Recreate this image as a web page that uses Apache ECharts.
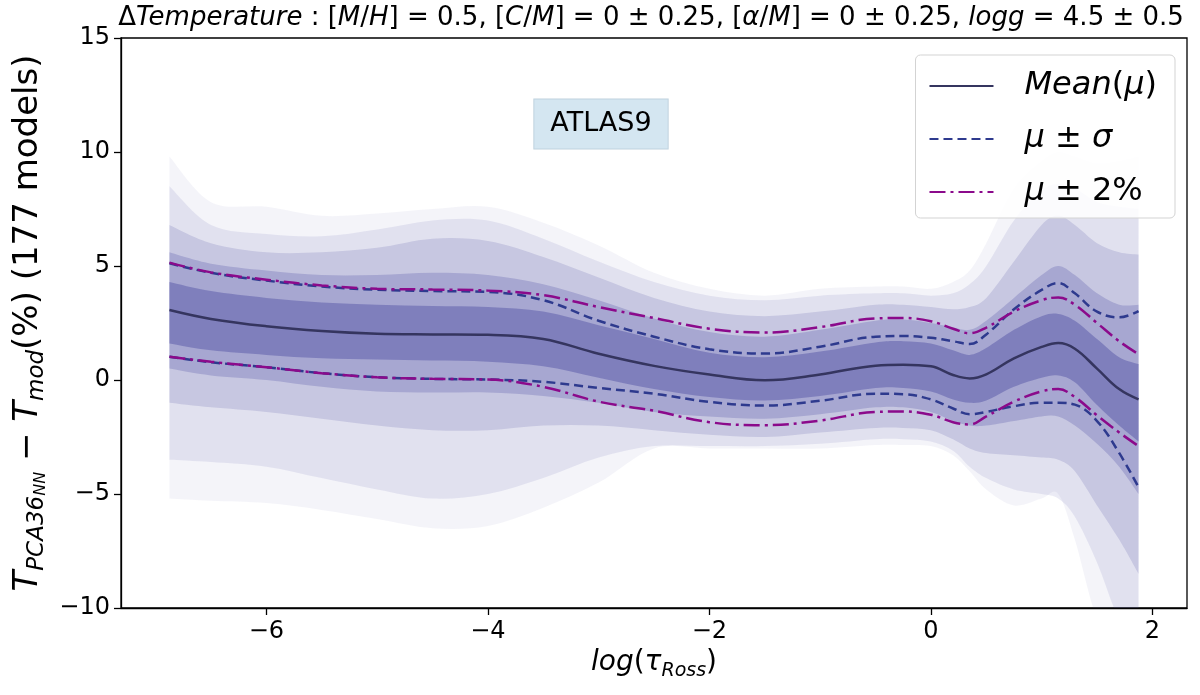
<!DOCTYPE html>
<html>
<head>
<meta charset="utf-8">
<script src="https://cdn.jsdelivr.net/npm/echarts@6.0.0/dist/echarts.min.js"></script>
<style>
  html, body { margin: 0; padding: 0; background: #fff; }
  #main { width: 1200px; height: 695px; }
</style>
</head>
<body>
<div id="main"></div>
<script>
// ---------- 数据 ----------
var tauX = [-6.875, -6.5, -6, -5.5, -5, -4.5, -4, -3.5, -3, -2.5, -2, -1.5, -1, -0.5, -0.25, 0, 0.2, 0.35, 0.5, 0.75, 1.0, 1.15, 1.3, 1.5, 1.7, 1.875];
var xTicks = [-6, -4, -2, 0, 2];

// 均值和 ±sigma / ±2% 曲线
var meanVals = [3.07, 2.68, 2.36, 2.15, 2.03, 2.0, 1.98, 1.8, 1.15, 0.62, 0.24, -0.01, 0.24, 0.63, 0.67, 0.6, 0.22, 0.07, 0.25, 0.95, 1.45, 1.62, 1.37, 0.5, -0.4, -0.85];
var sigUp = [5.12, 4.7, 4.36, 4.1, 3.96, 3.9, 3.86, 3.5, 2.6, 1.9, 1.35, 1.16, 1.46, 1.9, 1.93, 1.85, 1.7, 1.58, 2.0, 3.1, 3.95, 4.25, 3.8, 3.0, 2.75, 3.02];
var sigLo = [1.02, 0.78, 0.56, 0.3, 0.12, 0.05, 0.02, -0.08, -0.35, -0.6, -0.96, -1.12, -0.91, -0.6, -0.62, -0.85, -1.25, -1.5, -1.4, -1.15, -1.0, -1.0, -1.08, -1.8, -3.2, -4.7];
var pctUp = [5.15, 4.72, 4.4, 4.15, 4.0, 3.97, 3.92, 3.72, 3.2, 2.72, 2.25, 2.08, 2.32, 2.7, 2.72, 2.58, 2.25, 2.05, 2.3, 3.0, 3.5, 3.62, 3.3, 2.5, 1.7, 1.13];
var pctLo = [1.02, 0.8, 0.56, 0.3, 0.12, 0.05, 0.02, -0.3, -0.95, -1.35, -1.85, -1.98, -1.78, -1.4, -1.38, -1.52, -1.85, -1.95, -1.6, -0.95, -0.5, -0.4, -0.75, -1.55, -2.3, -2.9];

// 模型散布的包络（由内到外）
var coreUp = [4.3, 3.9, 3.6, 3.4, 3.3, 3.25, 3.2, 3.0, 2.4, 1.8, 1.2, 1.0, 1.25, 1.65, 1.7, 1.6, 1.3, 1.1, 1.4, 2.2, 2.8, 2.9, 2.6, 1.8, 1.0, 0.7];
var coreLo = [1.6, 1.3, 1.1, 0.95, 0.9, 0.85, 0.8, 0.6, 0.1, -0.4, -0.75, -0.9, -0.7, -0.35, -0.35, -0.5, -0.85, -1.0, -0.9, -0.3, 0.1, 0.2, -0.1, -1.1, -2.0, -2.7];
var midUp = [5.6, 5.1, 4.8, 4.6, 4.6, 4.7, 4.6, 4.2, 3.5, 2.7, 2.1, 1.9, 2.2, 2.6, 2.65, 2.5, 2.3, 2.2, 2.6, 3.6, 4.6, 5.0, 4.6, 3.8, 3.3, 3.3];
var midLo = [0.5, 0.2, 0.0, -0.3, -0.5, -0.55, -0.55, -0.7, -1.0, -1.4, -1.6, -1.7, -1.5, -1.2, -1.2, -1.4, -1.8, -2.0, -2.0, -1.8, -1.6, -1.6, -2.0, -2.8, -3.8, -5.0];
var wideUp = [6.8, 6.0, 5.6, 5.6, 5.8, 6.2, 6.1, 5.4, 4.5, 3.6, 3.0, 2.8, 3.0, 3.3, 3.3, 3.2, 3.1, 3.2, 3.6, 5.2, 6.8, 7.2, 6.8, 6.0, 5.6, 5.5];
var wideLo = [-1.0, -1.2, -1.4, -1.7, -2.0, -2.2, -2.2, -2.0, -2.0, -2.2, -2.4, -2.5, -2.3, -2.1, -2.1, -2.2, -2.6, -3.0, -3.2, -3.3, -3.4, -3.5, -4.0, -5.5, -7.0, -8.5];
var farUp = [8.5, 6.8, 6.4, 6.3, 6.6, 7.0, 7.0, 6.2, 5.2, 4.3, 3.7, 3.5, 3.7, 3.8, 3.8, 3.7, 3.8, 4.2, 5.0, 7.0, 8.3, 8.6, 8.4, 7.8, 7.6, 7.5];
var farLo = [-3.5, -3.6, -3.8, -4.3, -4.8, -5.2, -5.0, -4.3, -3.4, -2.9, -2.9, -2.9, -2.8, -2.6, -2.6, -2.7, -3.1, -3.8, -4.3, -4.8, -5.0, -5.2, -6.0, -8.0, -10.5, -11.5];
var maxUp = [9.8, 7.8, 7.6, 7.2, 7.3, 7.5, 7.6, 6.9, 5.9, 4.7, 4.0, 3.7, 4.0, 4.1, 4.1, 4.0, 4.3, 4.8, 6.0, 8.4, 9.6, 10.0, 9.8, 9.5, 9.6, 9.8];
var maxLo = [-5.2, -5.3, -5.4, -5.7, -6.1, -6.5, -6.4, -5.6, -4.5, -3.0, -3.0, -3.0, -3.0, -2.85, -2.85, -2.9, -3.3, -4.0, -4.8, -5.5, -5.2, -5.0, -7.0, -10.5, -12, -12];

var FONT = "DejaVu Sans";
var BAND = "#5e5eab";

function pairs(arr) {
  return tauX.map(function (x, i) {
    return [x, arr[i]];
  });
}

function txt(size, italic) {
  return {
    fontFamily: FONT,
    fontSize: size,
    color: "#000",
    fontStyle: italic ? "italic" : "normal",
  };
}

// 平滑曲线（Catmull-Rom 转三次贝塞尔），pts 为像素坐标
function smoothSeg(pts) {
  var d = "";
  for (var i = 0; i < pts.length - 1; i++) {
    var p0 = pts[Math.max(i - 1, 0)];
    var p1 = pts[i];
    var p2 = pts[i + 1];
    var p3 = pts[Math.min(i + 2, pts.length - 1)];
    var c1x = p1[0] + (p2[0] - p0[0]) / 6;
    var c1y = p1[1] + (p2[1] - p0[1]) / 6;
    var c2x = p2[0] - (p3[0] - p1[0]) / 6;
    var c2y = p2[1] - (p3[1] - p1[1]) / 6;
    d += " C" + c1x + " " + c1y + " " + c2x + " " + c2y + " " + p2[0] + " " + p2[1];
  }
  return d;
}

var chart = echarts.init(document.getElementById("main"));

// 散布带（由外到内叠加）
var bands = [
  [maxLo, maxUp, 0.07],
  [farLo, farUp, 0.12],
  [wideLo, wideUp, 0.2],
  [midLo, midUp, 0.3],
  [coreLo, coreUp, 0.55],
];

var series = [];

series.push({
  type: "custom",
  coordinateSystem: "cartesian2d",
  clip: true,
  silent: true,
  z: 1,
  data: bands.map(function (b, k) {
    return [k, 0];
  }),
  renderItem: function (params, api) {
    var b = bands[params.dataIndex];
    var up = tauX.map(function (x, i) {
      return api.coord([x, b[1][i]]);
    });
    var lo = tauX
      .map(function (x, i) {
        return api.coord([x, b[0][i]]);
      })
      .reverse();
    var d = "M" + up[0][0] + " " + up[0][1] + smoothSeg(up);
    d += " L" + lo[0][0] + " " + lo[0][1] + smoothSeg(lo) + " Z";
    return {
      type: "path",
      shape: { pathData: d },
      style: { fill: BAND, opacity: b[2] },
    };
  },
});

function curve(name, arr, color, type) {
  return {
    name: name,
    type: "line",
    data: pairs(arr),
    smooth: 0.4,
    symbol: "none",
    itemStyle: { color: color },
    lineStyle: { color: color, width: 2.5, type: type },
    z: 5,
  };
}

series.push(curve("Mean(μ)", meanVals, "#35355f", "solid"));
series.push(curve("μ ± σ", sigUp, "#2e3a8e", [9, 5]));
series.push(curve("μ ± σ", sigLo, "#2e3a8e", [9, 5]));
series.push(curve("μ ± 2%", pctUp, "#8b0a8b", [16, 5, 3, 5]));
series.push(curve("μ ± 2%", pctLo, "#8b0a8b", [16, 5, 3, 5]));

var legendText = {
  "Mean(μ)": "{it|Mean}{rm|(}{it|μ}{rm|)}",
  "μ ± σ": "{it|μ}{rm| ± }{it|σ}",
  "μ ± 2%": "{it|μ}{rm| ± 2%}",
};

function minus(v) {
  return String(v).replace("-", "\u2212");
}

var option = {
  animation: false,
  backgroundColor: "#fff",
  grid: {
    left: 121,
    right: 13,
    top: 38,
    bottom: 87,
    show: true,
    borderColor: "#000",
    borderWidth: 1.3,
    backgroundColor: "transparent",
  },
  legend: {
    data: ["Mean(μ)", "μ ± σ", "μ ± 2%"],
    orient: "vertical",
    right: 25,
    top: 55,
    itemWidth: 64,
    itemHeight: 14,
    itemGap: 21,
    padding: [15, 18, 10, 13],
    backgroundColor: "rgba(255,255,255,0.85)",
    borderColor: "#d3d3d3",
    borderWidth: 1,
    borderRadius: 5,
    itemStyle: { opacity: 0 },
    formatter: function (name) {
      return legendText[name];
    },
    textStyle: {
      padding: [0, 0, 0, 26],
      rich: {
        it: Object.assign(txt(32, true), { lineHeight: 36 }),
        rm: Object.assign(txt(32, false), { lineHeight: 36 }),
      },
    },
  },
  xAxis: {
    type: "value",
    min: -7.3125,
    max: 2.3125,
    name: "{it|log}{rm|(}{it|τ}{sub|Ross}{rm|)}",
    nameLocation: "middle",
    nameGap: 35,
    nameTextStyle: {
      rich: {
        it: Object.assign(txt(28, true), { lineHeight: 36, verticalAlign: "middle" }),
        rm: Object.assign(txt(28, false), { lineHeight: 36, verticalAlign: "middle" }),
        sub: Object.assign(txt(19, true), { lineHeight: 18, verticalAlign: "bottom" }),
      },
    },
    axisLine: { show: true, onZero: false, lineStyle: { color: "#000", width: 1.3 } },
    axisTick: { show: true, length: 7, customValues: xTicks, lineStyle: { color: "#000", width: 1.3 } },
    axisLabel: {
      customValues: xTicks,
      fontFamily: FONT,
      fontSize: 24,
      color: "#000",
      margin: 12,
      formatter: minus,
    },
    splitLine: { show: false },
  },
  yAxis: {
    type: "value",
    min: -10,
    max: 15,
    interval: 5,
    name: "{it|T}{sub|PCA36}{ss|NN}{rm| − }{it|T}{sub|mod}{rm|(%) (177 models)}",
    nameLocation: "middle",
    nameRotate: 90,
    nameGap: 68,
    nameTextStyle: {
      rich: {
        it: Object.assign(txt(34, true), { lineHeight: 40, verticalAlign: "middle" }),
        rm: Object.assign(txt(34, false), { lineHeight: 40, verticalAlign: "middle" }),
        sub: Object.assign(txt(23, true), { lineHeight: 20, verticalAlign: "bottom" }),
        ss: Object.assign(txt(16, true), { lineHeight: 8, verticalAlign: "bottom" }),
      },
    },
    axisLine: { show: true, onZero: false, lineStyle: { color: "#000", width: 1.3 } },
    axisTick: { show: true, length: 7, lineStyle: { color: "#000", width: 1.3 } },
    axisLabel: {
      fontFamily: FONT,
      fontSize: 24,
      color: "#000",
      margin: 11,
      formatter: minus,
    },
    splitLine: { show: false },
  },
  graphic: [
    {
      type: "text",
      x: 651,
      y: 18,
      z: 10,
      style: {
        text:
          "{rm|Δ}{it|Temperature}{rm| : [}{it|M}{rm|/}{it|H}{rm|] = 0.5, [}{it|C}{rm|/}{it|M}{rm|] = 0 ± 0.25, [}{it|α}{rm|/}{it|M}{rm|] = 0 ± 0.25, }{it|logg}{rm| = 4.5 ± 0.5}",
        align: "center",
        verticalAlign: "middle",
        rich: { it: txt(26, true), rm: txt(26, false) },
      },
    },
    {
      type: "text",
      x: 601,
      y: 124,
      z: 10,
      style: {
        text: "ATLAS9",
        fontFamily: FONT,
        fontSize: 27,
        fill: "#000",
        align: "center",
        verticalAlign: "middle",
        backgroundColor: "#d4e6f1",
        borderColor: "#bfd2de",
        borderWidth: 1,
        padding: [12, 16, 10, 16],
      },
    },
  ],
  series: series,
};

chart.setOption(option);
</script>
</body>
</html>
